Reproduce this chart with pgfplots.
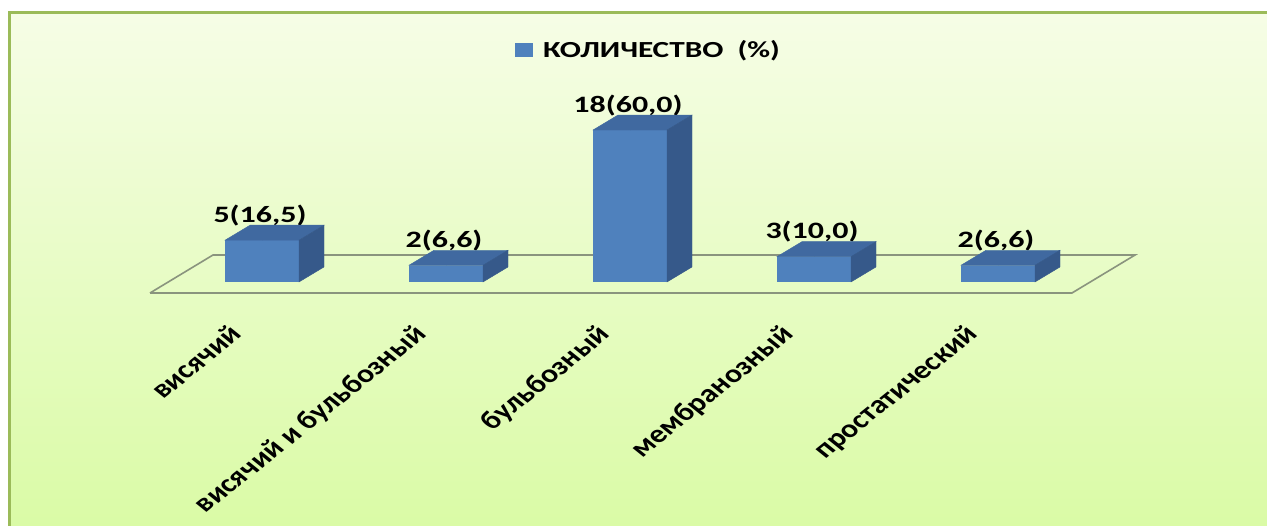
\documentclass[border=0pt]{standalone}
\usepackage{fontspec}
\setmainfont{Carlito}
\usepackage{graphicx}
\usepackage{pgfplots}
\usepackage{pgfplotstable}
\pgfplotsset{compat=1.18}

\definecolor{barfront}{RGB}{79,129,189}
\definecolor{bartop}{RGB}{64,105,160}
\definecolor{barside}{RGB}{54,89,138}
\definecolor{frameline}{RGB}{155,187,89}
\definecolor{floorline}{RGB}{138,148,126}
\definecolor{bgtop}{RGB}{246,253,230}
\definecolor{bgbottom}{RGB}{218,251,166}

% type of stenosis: share in percent, label "count(percent)"
\pgfplotstableread{
x val lab
0 16.5 5(16,5)
1 6.6  2(6,6)
2 60.0 18(60,0)
3 10.0 3(10,0)
4 6.6  2(6,6)
}\stenosis

\newcommand{\wide}[1]{\scalebox{1.36}[1]{#1}}

\begin{document}
\begin{tikzpicture}
\useasboundingbox (0,0) rectangle (1267pt,526pt);
\fill[white] (0,0) rectangle (1267pt,526pt);
\shade[top color=bgtop, bottom color=bgbottom] (9pt,0pt) rectangle (1267pt,513pt);
\draw[frameline, line width=3pt] (9pt,0pt) -- (9pt,513pt) -- (1267pt,513pt);

\begin{axis}[
  at={(41.2pt,244pt)}, anchor=south west,
  x=184pt, y=2.533pt,
  xmin=-1.2, xmax=5.2, ymin=0, ymax=70,
  clip=false,
  axis line style={draw=none},
  major tick length=0pt,
  ytick=\empty,
  xtick={0,1,2,3,4},
  xticklabels={висячий, висячий и бульбозный, бульбозный, мембранозный, простатический},
  xticklabel style={font=\fontsize{25.5}{29}\selectfont\bfseries, inner sep=0pt,
    anchor=north east, xshift=-34pt, yshift=-41pt,
    cm={0.88,0.707,-0.88,0.707,(0,0)}},
  legend style={draw=none, fill=none, inner sep=0pt,
    at={(0.4023,1.3085)}, anchor=west,
    font=\fontsize{23}{27}\selectfont\bfseries,
    /tikz/every odd column/.append style={column sep=8pt}},
  legend image code/.code={\fill[barfront] (0pt,-7pt) rectangle (18pt,7pt);},
]
% floor of the 3D plot area
\addplot[floorline, line width=1.6pt, forget plot]
  coordinates {(-0.6087,-4.343) (4.402,-4.343) (4.745,10.66) (-0.2663,10.66) (-0.6087,-4.343)};

% front faces of the bars, with the data labels
\addplot[ybar, bar width=74pt, fill=barfront, draw=none,
  point meta=explicit symbolic,
  nodes near coords={\wide{\pgfplotspointmeta}},
  nodes near coords style={font=\fontsize{23.5}{28}\selectfont\bfseries, text=black,
    anchor=base, xshift=-2pt, yshift=18pt, inner sep=0pt}]
  table[x=x, y=val, meta=lab] {\stenosis};
\addlegendentry{\wide{КОЛИЧЕСТВО~~(\%)}}

% top and side faces of the bars
\addplot[forget plot, only marks, scatter, mark=*, mark size=0pt,
  mark options={draw=none, fill=none},
  visualization depends on={rawy \as \h},
  scatter/@pre marker code/.code={%
    \pgfmathsetmacro\hh{2.533*\h}%
    \fill[bartop] (-37pt,0pt) -- (37pt,0pt) -- (62pt,15pt) -- (-12pt,15pt) -- cycle;
    \fill[barside] (37pt,0pt) -- (62pt,15pt) -- ({62pt},{(15-\hh)*1pt}) -- ({37pt},{-\hh*1pt}) -- cycle;
  },
  scatter/@post marker code/.code={}]
  table[x=x, y=val] {\stenosis};
\end{axis}
\end{tikzpicture}
\end{document}
